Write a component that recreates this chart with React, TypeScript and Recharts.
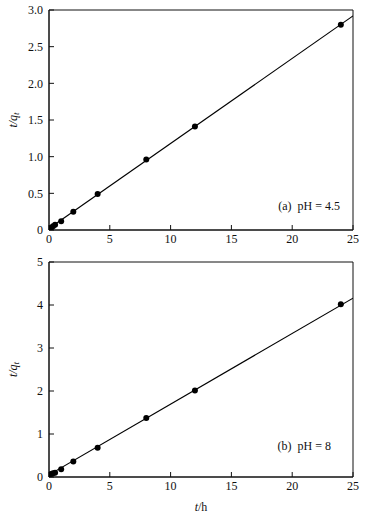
import React from 'react';
import { ComposedChart, Scatter, Line, XAxis, YAxis, ReferenceArea, Label, Customized } from 'recharts';

const timeHours = [0.17, 0.33, 0.5, 1, 2, 4, 8, 12, 24];
const ratioPH45 = [0.03, 0.05, 0.07, 0.12, 0.25, 0.49, 0.96, 1.41, 2.8];
const ratioPH8 = [0.07, 0.09, 0.1, 0.18, 0.36, 0.68, 1.37, 2.01, 4.02];
const fitT = [0, 25];
const fitPH45 = [0.02, 2.92];
const fitPH8 = [0.05, 4.16];
const xTicks = [0, 5, 10, 15, 20, 25];
const yTicksA = [0, 0.5, 1, 1.5, 2, 2.5, 3];
const yTicksB = [0, 1, 2, 3, 4, 5];

const FONT = "'Liberation Serif', 'Times New Roman', serif";
const INK = '#111';

const Dot = (p: any) => <circle cx={p.cx} cy={p.cy} r={3} fill="#000" />;

const YLabel = (props: any) => {
  const vb = props.viewBox || {};
  const cx = (vb.x || 0) + 13;
  const cy = (vb.y || 0) + (vb.height || 0) / 2;
  return (
    <text x={cx} y={cy} transform={`rotate(-90 ${cx} ${cy})`} textAnchor="middle" dominantBaseline="central"
      style={{ fontFamily: FONT }} fontSize={12} fill={INK} fontStyle="italic">
      t/q<tspan fontSize={9} dy={3}>t</tspan>
    </text>
  );
};

const XLabel = (props: any) => {
  const vb = props.viewBox || {};
  const cx = (vb.x || 0) + (vb.width || 0) / 2;
  const cy = (vb.y || 0) + 30;
  return (
    <text x={cx} y={cy} textAnchor="middle" dominantBaseline="central" style={{ fontFamily: FONT }} fontSize={12} fill={INK}>
      <tspan fontStyle="italic">t</tspan>/h
    </text>
  );
};

type PanelProps = {
  values: number[];
  fit: number[];
  yMax: number;
  yTicks: number[];
  fmt: (v: number) => string;
  note: string;
  noteX: number;
  noteY: number;
  height: number;
  top: number;
  marginTop: number;
  xHeight: number;
  showXLabel: boolean;
};

const Panel = (p: PanelProps) => {
  const pts = timeHours.map((t, i) => ({ t, v: p.values[i] }));
  const line = fitT.map((t, i) => ({ t, v: p.fit[i] }));
  return (
    <div style={{ position: 'absolute', left: 0, top: p.top, fontFamily: FONT }}>
      <ComposedChart width={372} height={p.height} margin={{ top: p.marginTop, right: 19, left: 0, bottom: 0 }}>
        <XAxis dataKey="t" type="number" domain={[0, 25]} ticks={xTicks} allowDataOverflow
          height={p.xHeight} tickSize={-5} tickMargin={9} stroke={INK}
          tick={{ fontSize: 12, fill: INK, style: { fontFamily: FONT } }}>
          {p.showXLabel ? <Label content={XLabel} /> : null}
        </XAxis>
        <YAxis dataKey="v" type="number" domain={[0, p.yMax]} ticks={p.yTicks} allowDataOverflow
          width={49} tickSize={-5} tickMargin={11} stroke={INK} tickFormatter={p.fmt}
          tick={{ fontSize: 12, fill: INK, style: { fontFamily: FONT } }}>
          <Label content={YLabel} />
        </YAxis>
        <ReferenceArea x1={0} x2={25} y1={0} y2={p.yMax} fill="none" stroke={INK} strokeWidth={1} fillOpacity={0} />
        <Line data={line} dataKey="v" type="linear" stroke="#000" strokeWidth={1.1} dot={false} isAnimationActive={false} />
        <Scatter data={pts} dataKey="v" shape={Dot} isAnimationActive={false} />
        <Customized component={() => (
          <text x={p.noteX} y={p.noteY} textAnchor="end" dominantBaseline="central" style={{ fontFamily: FONT, whiteSpace: 'pre' }} fontSize={12} fill={INK}>
            {p.note}
          </text>
        )} />
      </ComposedChart>
    </div>
  );
};

export default function App() {
  return (
    <div style={{ position: 'absolute', left: 0, top: 0, width: 372, height: 517, background: '#fff' }}>
      <Panel values={ratioPH45} fit={fitPH45} yMax={3} yTicks={yTicksA}
        fmt={(v) => (v === 0 ? '0' : v.toFixed(1))} note={'(a)\u00A0\u00A0pH = 4.5'} noteX={340} noteY={206}
        height={250} top={0} marginTop={10} xHeight={20} showXLabel={false} />
      <Panel values={ratioPH8} fit={fitPH8} yMax={5} yTicks={yTicksB}
        fmt={(v) => String(v)} note={'(b)\u00A0\u00A0pH = 8'} noteX={331} noteY={196}
        height={267} top={250} marginTop={12} xHeight={40} showXLabel={true} />
    </div>
  );
}
